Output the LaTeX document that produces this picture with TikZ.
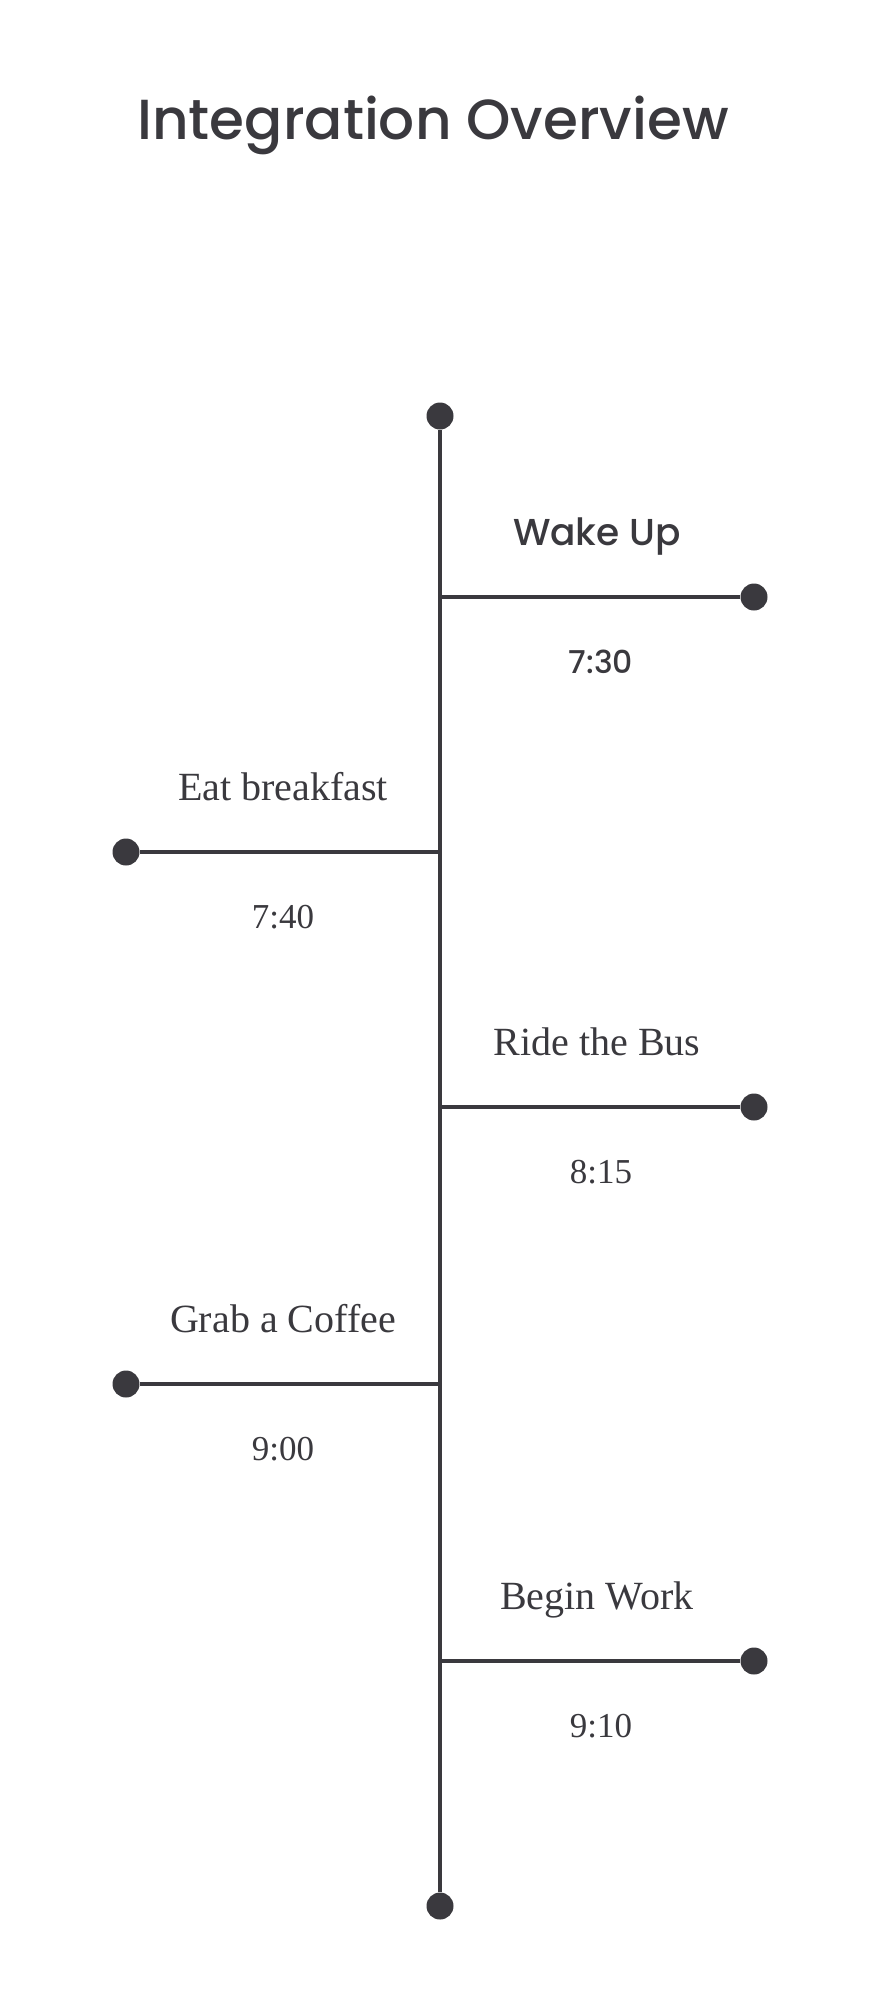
\documentclass[tikz,border=0pt]{standalone}
\usepackage{fontspec}
\setmainfont{Liberation Serif}
\newfontfamily\headfont{Poppins Medium}
\usepackage{xcolor}
\definecolor{inkgray}{HTML}{3A393E}
\usetikzlibrary{positioning, calc}

\begin{document}
\begin{tikzpicture}[
    x=1pt, y=-1pt,
    color=inkgray,
    dot/.style={circle, fill=inkgray, minimum size=27pt, inner sep=0pt},
    spine/.style={line width=4.2pt},
    branch/.style={line width=4pt},
    evlabel/.style={anchor=base, yshift=52pt, font=\fontsize{40}{44}\selectfont},
    evtime/.style={anchor=base, yshift=-76pt, font=\fontsize{35}{38}\selectfont}
]
    \useasboundingbox (0,0) rectangle (880,2000);
    \node[anchor=base, font=\headfont\fontsize{56.5}{60}\selectfont] (title) at (433,139) {Integration Overview};
    % spine
    \node[dot] (top) at (440,416) {};
    \node[dot] (bottom) at (440,1906) {};
    \draw[spine] (top) -- (bottom);
    % events
    \coordinate (j1) at (440,597);
    \node[dot] (d1) at (754,597) {};
    \draw[branch] (j1) -- (d1);
    \node[evlabel, font=\headfont\fontsize{37.5}{40}\selectfont] (l1) at ($(j1)!.5!(d1)$) {Wake Up};
    \node[evtime, font=\headfont\fontsize{31.5}{34}\selectfont, xshift=4pt] (t1) at ($(j1)!.5!(d1)$) {7:30};

    \coordinate (j2) at (440,852);
    \node[dot] (d2) at (126,852) {};
    \draw[branch] (j2) -- (d2);
    \node[evlabel] (l2) at ($(j2)!.5!(d2)$) {Eat breakfast};
    \node[evtime] (t2) at ($(j2)!.5!(d2)$) {7:40};

    \coordinate (j3) at (440,1107);
    \node[dot] (d3) at (754,1107) {};
    \draw[branch] (j3) -- (d3);
    \node[evlabel] (l3) at ($(j3)!.5!(d3)$) {Ride the Bus};
    \node[evtime, xshift=4pt] (t3) at ($(j3)!.5!(d3)$) {8:15};

    \coordinate (j4) at (440,1384);
    \node[dot] (d4) at (126,1384) {};
    \draw[branch] (j4) -- (d4);
    \node[evlabel] (l4) at ($(j4)!.5!(d4)$) {Grab a Coffee};
    \node[evtime] (t4) at ($(j4)!.5!(d4)$) {9:00};

    \coordinate (j5) at (440,1661);
    \node[dot] (d5) at (754,1661) {};
    \draw[branch] (j5) -- (d5);
    \node[evlabel] (l5) at ($(j5)!.5!(d5)$) {Begin Work};
    \node[evtime, xshift=4pt] (t5) at ($(j5)!.5!(d5)$) {9:10};
\end{tikzpicture}
\end{document}
